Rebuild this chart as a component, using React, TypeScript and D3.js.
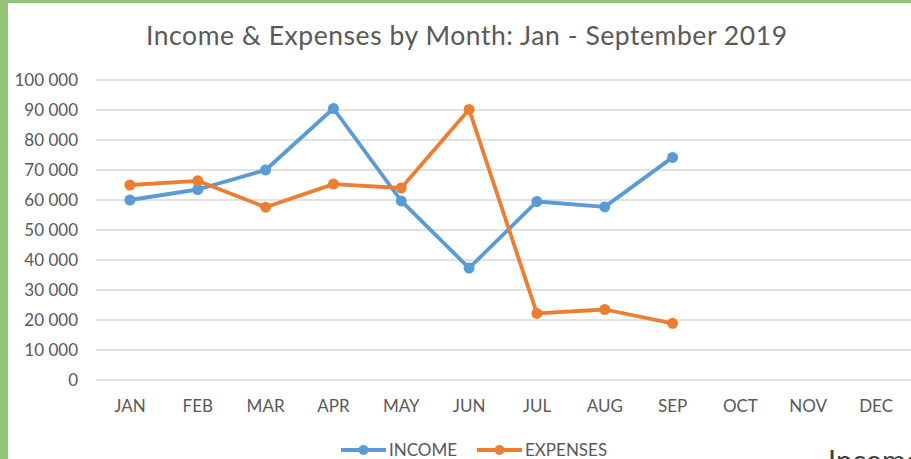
import React from "react";
import * as d3 from "d3";

const months = ["JAN", "FEB", "MAR", "APR", "MAY", "JUN", "JUL", "AUG", "SEP", "OCT", "NOV", "DEC"];
const income = [60000, 63500, 70000, 90500, 59700, 37300, 59500, 57700, 74200];
const expenses = [65000, 66400, 57600, 65300, 64000, 90200, 22200, 23500, 18900];
const yTicks = [0, 10000, 20000, 30000, 40000, 50000, 60000, 70000, 80000, 90000, 100000];

const W = 911;
const H = 459;
const FONT = "Lato, 'Open Sans', sans-serif";
const TEXT = "#595959";
const BLUE = "#5B9BD5";
const ORANGE = "#ED7D31";

const x = d3.scaleBand<string>().domain(months).range([96, 910]);
const y = d3.scaleLinear().domain([0, 100000]).range([380, 80]);

const fmt = (v: number) => d3.format(",")(v).replace(/,/g, " ");

// center of a month's band
const cx = (i: number) => x(months[i])! + x.bandwidth() / 2;

const line = d3
  .line<number>()
  .x((_, i) => cx(i))
  .y(d => y(d));

const series = [
  { name: "INCOME", values: income, color: BLUE },
  { name: "EXPENSES", values: expenses, color: ORANGE },
];

const App = () => {
  return (
    <svg
      width={W}
      height={H}
      style={{ position: "absolute", left: 0, top: 0, background: "#fff" }}
      fontFamily={FONT}
    >
      <rect x={0} y={0} width={W} height={3} fill="#92C47C" />
      <rect x={0} y={0} width={8} height={H} fill="#92C47C" />

      <text x={146} y={45} fontSize={26.5} fill={TEXT} textLength={641} lengthAdjust="spacing">
        Income &amp; Expenses by Month: Jan - September 2019
      </text>

      {yTicks.map(t => (
        <g key={t}>
          <line x1={96} x2={W} y1={y(t)} y2={y(t)} stroke="#D9D9D9" strokeWidth={1.3} />
          <text x={78} y={y(t)} dy="0.35em" textAnchor="end" fontSize={17} fill={TEXT}>
            {fmt(t)}
          </text>
        </g>
      ))}

      {months.map((m, i) => (
        <text key={m} x={cx(i)} y={412} textAnchor="middle" fontSize={17} fill={TEXT}>
          {m}
        </text>
      ))}

      {series.map(s => (
        <g key={s.name}>
          <path d={line(s.values)!} fill="none" stroke={s.color} strokeWidth={3.8} strokeLinejoin="round" />
          {s.values.map((v, i) => (
            <circle key={i} cx={cx(i)} cy={y(v)} r={5.5} fill={s.color} />
          ))}
        </g>
      ))}

      {series.map((s, i) => {
        const lx = i === 0 ? 341 : 477;
        return (
          <g key={s.name} transform={`translate(${lx},450)`}>
            <line x1={0} x2={45} y1={0} y2={0} stroke={s.color} strokeWidth={3.8} />
            <circle cx={22.5} cy={0} r={5} fill={s.color} />
            <text x={48} y={0} dy="0.35em" fontSize={17} fill={TEXT}>
              {s.name}
            </text>
          </g>
        );
      })}

      <text x={828} y={471} fontSize={29} fill="#404040">
        Income
      </text>
    </svg>
  );
};

export default App;
